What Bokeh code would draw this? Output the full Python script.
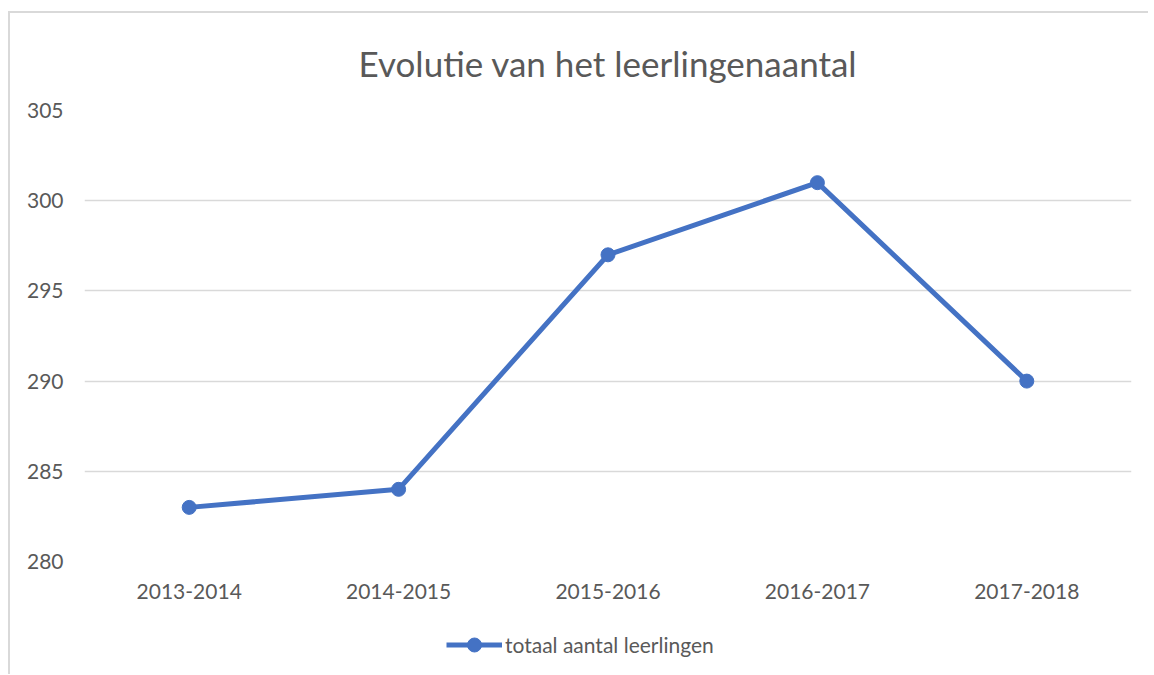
from bokeh.plotting import figure
from bokeh.models import FixedTicker, Legend, LegendItem, Range1d
from bokeh.layouts import column
from bokeh.embed import file_html
from bokeh.resources import INLINE

categories = ["2013-2014", "2014-2015", "2015-2016", "2016-2017", "2017-2018"]
values = [283, 284, 297, 301, 290]
y_ticks = [280, 285, 290, 295, 300, 305]
series_name = "totaal aantal leerlingen"
title_text = "Evolutie van het leerlingenaantal"

FONT = "Lato"
TXT = "#595959"
BLUE = "#4472C4"
W = 1138

p = figure(x_range=categories, y_range=Range1d(280, 305),
           width=W, height=606, output_backend="svg", toolbar_location=None,
           min_border_left=74, min_border_right=17, min_border_top=97, min_border_bottom=58)
p.outline_line_color = None
p.background_fill_color = "white"
p.border_fill_color = "white"

p.title.text = title_text
p.title.align = "center"
p.title.text_font = FONT
p.title.text_font_size = "35px"
p.title.text_font_style = "normal"
p.title.text_color = TXT
p.title.standoff = 53

p.xgrid.grid_line_color = None
p.ygrid.grid_line_color = "#d9d9d9"
p.ygrid.grid_line_width = 1.5
p.yaxis.ticker = FixedTicker(ticks=y_ticks)
for ax in (p.xaxis, p.yaxis):
    ax.axis_line_color = None
    ax.major_tick_line_color = None
    ax.minor_tick_line_color = None
    ax.major_label_text_font = FONT
    ax.major_label_text_font_size = "21px"
    ax.major_label_text_color = TXT
p.yaxis.major_label_standoff = 15
p.xaxis.major_label_standoff = 16

p.line(categories, values, line_color=BLUE, line_width=5)
p.scatter(categories, values, size=14, fill_color=BLUE, line_color=BLUE)

# legend strip below the chart (proxy renderers lie outside the visible range)
lf = figure(width=W, height=55, output_backend="svg", toolbar_location=None,
            x_range=Range1d(0, 1), y_range=Range1d(0, 1),
            x_axis_location=None, y_axis_location=None,
            min_border=0)
lf.outline_line_color = None
lf.xgrid.grid_line_color = None
lf.ygrid.grid_line_color = None
proxy_x = [-10, -9]
proxy_y = [-10, -10]
lr = lf.line(x=proxy_x, y=proxy_y, line_color=BLUE, line_width=5)
ls = lf.scatter(x=proxy_x, y=proxy_y, size=14, fill_color=BLUE, line_color=BLUE)
legend = Legend(items=[LegendItem(label=series_name, renderers=[lr, ls])],
                location=(362, 12), orientation="horizontal",
                label_text_font=FONT, label_text_font_size="21px", label_text_color=TXT,
                border_line_color=None, background_fill_alpha=0,
                glyph_width=56, glyph_height=35, label_standoff=3, margin=0, padding=0)
lf.add_layout(legend)

layout = column(p, lf, spacing=0)
layout.margin = (11, 0, 0, 8)
layout.styles = {"border-left": "2px solid #d9d9d9", "border-top": "2px solid #d9d9d9"}

open("out.html", "w").write(file_html(layout, INLINE))
